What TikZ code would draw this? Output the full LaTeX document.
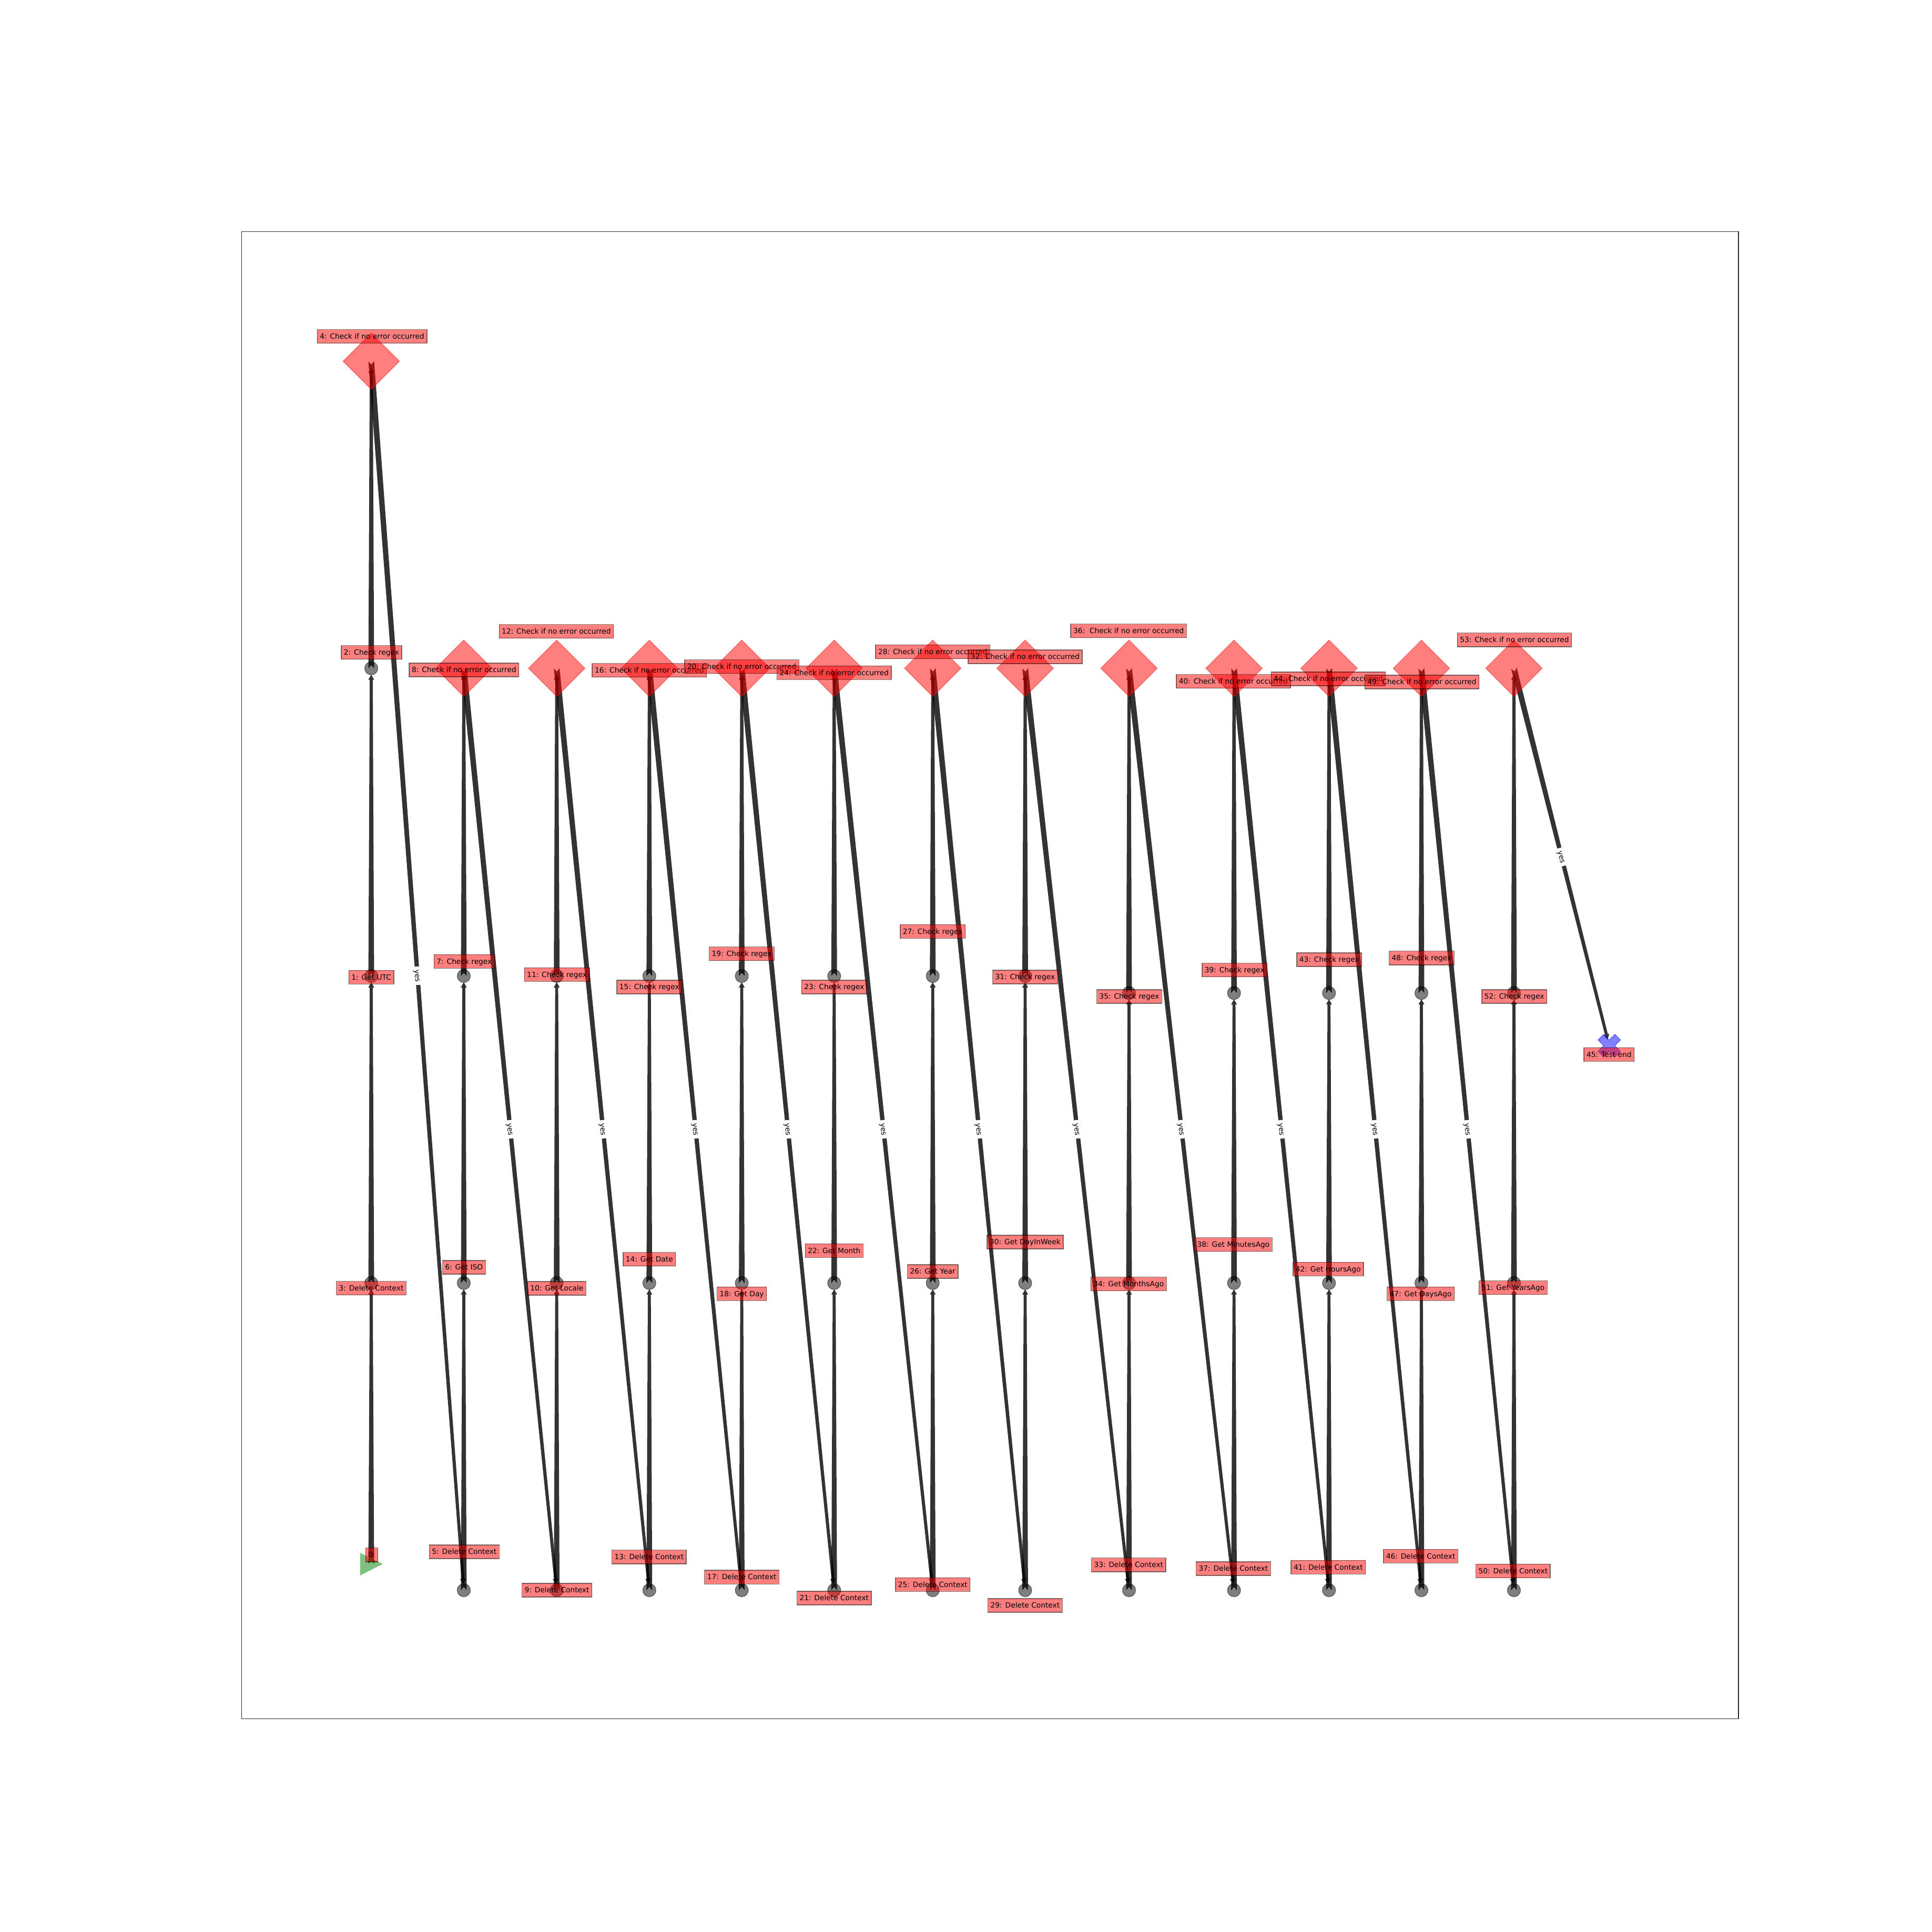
\documentclass[tikz,border=0pt]{standalone}
\usepackage{fontspec}
\setmainfont{DejaVu Sans}
\usetikzlibrary{calc,shapes.geometric}
\pgfdeclarelayer{edges}
\pgfdeclarelayer{labels}
\pgfsetlayers{edges,main,labels}
\tikzset{
  cnode/.style={circle, inner sep=0pt, minimum size=7.1pt, fill=black, fill opacity=0.5, draw=black, draw opacity=0.55, line width=0.3pt},
  dnode/.style={diamond, aspect=1, inner sep=0pt, minimum width=30.7pt, minimum height=30.7pt, fill=red, fill opacity=0.5, draw=red, draw opacity=0.5, line width=0.3pt},
  lbl/.style={rectangle, inner sep=1.42pt, text height=3.64pt, text depth=0.93pt, fill=red, fill opacity=0.5, draw=black, draw opacity=0.5, line width=0.4pt, text opacity=1, font=\fontsize{3.92}{4.7}\selectfont},
  yeslbl/.style={rectangle, inner xsep=1.6pt, inner ysep=0.5pt, text height=3.64pt, text depth=0.93pt, fill=white, font=\fontsize{3.92}{4.7}\selectfont},
  edgefill/.style={fill=black, fill opacity=0.8},
}
\newcommand\fedge[2]{%
  \coordinate (eT) at ($(#2.center)!3.4pt!(#1.center)$);
  \coordinate (eB) at ($(eT)!2.8pt!(#1.center)$);
  \fill[edgefill] ($(#1.center)!1.55pt!90:(#2.center)$) -- ($(eB)!0.8pt!90:(eT)$) -- ($(eB)!1.6pt!90:(eT)$) -- (eT) -- ($(eB)!1.6pt!-90:(eT)$) -- ($(eB)!0.8pt!-90:(eT)$) -- ($(#1.center)!1.55pt!-90:(#2.center)$) -- ($(#1.center)!1.8pt!(#2.center)$) -- cycle;
}
\begin{document}
\begin{tikzpicture}[x=0.023431cm, y=-0.023431cm]
\useasboundingbox (0,0) rectangle (1568,1568);
\draw[line width=0.4pt, black!85] (196,188) rectangle (1411,1395);

% group A
\coordinate (n0) at (301.3,1269.3);
\fill[green!50!black, fill opacity=0.5] (292.3,1260.3) -- (292.3,1278.6) -- (310.7,1269.3) -- cycle;
\node[cnode] (n3) at (301.3,1041.3) {};
\node[cnode] (n1) at (301.3,792.1) {};
\node[cnode] (n2) at (301.3,542.4) {};
\node[dnode] (n4) at (301.3,293.2) {};

% groups B..M
\foreach \d/\g/\r/\c/\x/\yr in {
  5/6/7/8/376.4/792.1,
  9/10/11/12/451.8/792.1,
  13/14/15/16/527/792.1,
  17/18/19/20/602/792.1,
  21/22/23/24/677/792.1,
  25/26/27/28/757/792.1,
  29/30/31/32/832/792.1,
  33/34/35/36/916.3/805.9,
  37/38/39/40/1001.5/805.9,
  41/42/43/44/1078.6/805.9,
  46/47/48/49/1153.6/805.9,
  50/51/52/53/1228.7/805.9}{
  \node[cnode] (n\d) at (\x,1290.6) {};
  \node[cnode] (n\g) at (\x,1041.3) {};
  \node[cnode] (n\r) at (\x,\yr) {};
  \node[dnode] (n\c) at (\x,542.4) {};
}

% end node
\coordinate (n45) at (1306,848.6);
\fill[blue, fill opacity=0.5, draw=blue, draw opacity=0.5, line width=0.3pt, shift={(1306,848.6)}, rotate=45]
  (9.73,3.24) -- (3.24,3.24) -- (3.24,9.73) -- (-3.24,9.73) -- (-3.24,3.24) -- (-9.73,3.24)
  -- (-9.73,-3.24) -- (-3.24,-3.24) -- (-3.24,-9.73) -- (3.24,-9.73) -- (3.24,-3.24) -- (9.73,-3.24) -- cycle;

\begin{pgfonlayer}{edges}
\foreach \a/\b in {n0/n3, n3/n1, n1/n2, n2/n4, n5/n6, n6/n7, n7/n8, n9/n10, n10/n11, n11/n12,
  n13/n14, n14/n15, n15/n16, n17/n18, n18/n19, n19/n20, n21/n22, n22/n23, n23/n24,
  n25/n26, n26/n27, n27/n28, n29/n30, n30/n31, n31/n32, n33/n34, n34/n35, n35/n36,
  n37/n38, n38/n39, n39/n40, n41/n42, n42/n43, n43/n44, n46/n47, n47/n48, n48/n49,
  n50/n51, n51/n52, n52/n53}{\fedge{\a}{\b}}
\foreach \a/\b in {n4/n5, n8/n9, n12/n13, n16/n17, n20/n21, n24/n25, n28/n29, n32/n33,
  n36/n37, n40/n41, n44/n46, n49/n50, n53/n45}{
  \fedge{\a}{\b}
  \path (\a.center) -- (\b.center) node[midway, sloped, yeslbl] (y\a) {yes};
}
\end{pgfonlayer}

\begin{pgfonlayer}{labels}
\node[lbl] (l0) at (301.7,1261.9) {0:\ };
\node[lbl] (l1) at (301.4,793.1) {1: Get UTC};
\node[lbl] (l2) at (301.5,529.5) {2: Check regex};
\node[lbl] (l3) at (301.3,1045.5) {3: Delete Context};
\node[lbl] (l4) at (302,273) {4: Check if no error occurred\ };
\node[lbl] (l5) at (376.8,1259.4) {5: Delete Context};
\node[lbl] (l6) at (376.6,1028.5) {6: Get ISO};
\node[lbl] (l7) at (376.8,780.3) {7: Check regex};
\node[lbl] (l8) at (376.6,543.7) {8: Check if no error occurred\ };
\node[lbl] (l9) at (452,1290.5) {9: Delete Context};
\node[lbl] (l10) at (451.9,1045.6) {10: Get Locale};
\node[lbl] (l11) at (452,791) {11: Check regex};
\node[lbl] (l12) at (451.5,512.4) {12: Check if no error occurred\ };
\node[lbl] (l13) at (526.8,1263.6) {13: Delete Context};
\node[lbl] (l14) at (527,1022) {14: Get Date};
\node[lbl] (l15) at (527,801) {15: Check regex};
\node[lbl] (l16) at (527,544) {16: Check if no error occurred\ };
\node[lbl] (l17) at (602,1280) {17: Delete Context};
\node[lbl] (l18) at (602,1050) {18: Get Day};
\node[lbl] (l19) at (602,774) {19: Check regex};
\node[lbl] (l20) at (602,541) {20: Check if no error occurred\ };
\node[lbl] (l21) at (677,1297) {21: Delete Context};
\node[lbl] (l22) at (677,1015) {22: Get Month};
\node[lbl] (l23) at (677,801) {23: Check regex};
\node[lbl] (l24) at (677,546) {24: Check if no error occurred\ };
\node[lbl] (l25) at (757,1286) {25: Delete Context};
\node[lbl] (l26) at (757,1032) {26: Get Year};
\node[lbl] (l27) at (757,756) {27: Check regex};
\node[lbl] (l28) at (757,529) {28: Check if no error occurred\ };
\node[lbl] (l29) at (832,1303) {29: Delete Context};
\node[lbl] (l30) at (832,1008) {30: Get DayInWeek};
\node[lbl] (l31) at (832,793) {31: Check regex};
\node[lbl] (l32) at (832,533) {32: Check if no error occurred\ };
\node[lbl] (l33) at (916,1270) {33: Delete Context};
\node[lbl] (l34) at (916,1042) {34: Get MonthsAgo};
\node[lbl] (l35) at (916.5,808.7) {35: Check regex};
\node[lbl] (l36) at (916,512) {36:\ \ Check if no error occurred\ };
\node[lbl] (l37) at (1001,1273) {37: Delete Context};
\node[lbl] (l38) at (1001,1010) {38: Get MinutesAgo};
\node[lbl] (l39) at (1002,787.3) {39: Check regex};
\node[lbl] (l40) at (1001,553) {40: Check if no error occurred\ };
\node[lbl] (l41) at (1078,1272) {41: Delete Context};
\node[lbl] (l42) at (1078,1030) {42: Get HoursAgo};
\node[lbl] (l43) at (1078.8,778.8) {43: Check regex};
\node[lbl] (l44) at (1078,551) {44: Check if no error occurred\ };
\node[lbl] (l45) at (1305.9,855.8) {45: Test end};
\node[lbl] (l46) at (1153,1263) {46: Delete Context};
\node[lbl] (l47) at (1153,1050) {47: Get DaysAgo};
\node[lbl] (l48) at (1153.8,777.5) {48: Check regex};
\node[lbl] (l49) at (1154,553.5) {49: Check if no error occurred\ };
\node[lbl] (l50) at (1228,1275) {50: Delete Context};
\node[lbl] (l51) at (1228,1045) {51: Get YearsAgo};
\node[lbl] (l52) at (1229,808.7) {52: Check regex};
\node[lbl] (l53) at (1229.1,519.3) {53: Check if no error occurred\ };
\end{pgfonlayer}
\end{tikzpicture}
\end{document}
